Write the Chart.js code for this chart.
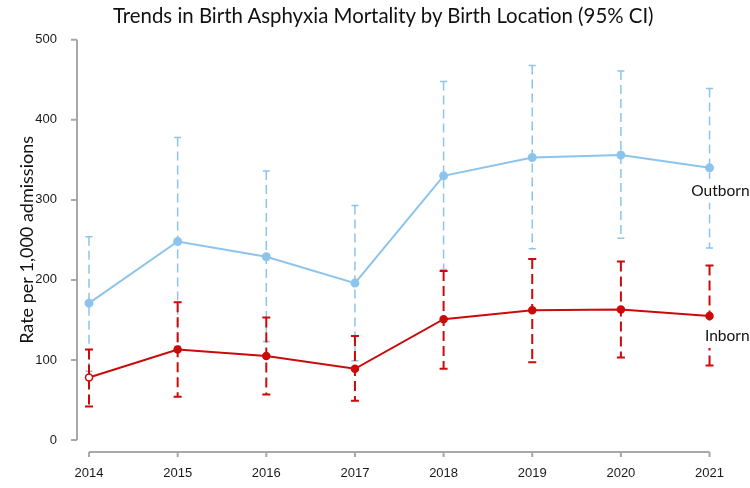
<!DOCTYPE html>
<html>
<head>
<meta charset="utf-8">
<script src="https://cdn.jsdelivr.net/npm/chart.js@4.4.1/dist/chart.umd.min.js"></script>
<style>
  html, body { margin: 0; padding: 0; background: #fff; }
  #wrap { position: relative; width: 750px; height: 488px; }
  #title {
    position: absolute; top: 2px; left: 113px; width: 560px;
    font: 20.4px Lato, 'Open Sans', sans-serif; color: #111; line-height: 26px;
    white-space: nowrap;
  }
</style>
</head>
<body>
<div id="wrap">
  <div id="title">Trends in Birth Asphyxia Mortality by Birth Location (95% CI)</div>
  <canvas id="chart"></canvas>
</div>
<script>
// values (rate per 1,000 admissions)
const years = ['2014', '2015', '2016', '2017', '2018', '2019', '2020', '2021'];
const outborn     = [171, 248, 229, 196, 330, 353, 356, 340];
const outbornLow  = [86, 117, 123, 99, 213, 239, 252, 240];
const outbornHigh = [254, 378, 336, 293, 448, 468, 461, 439];
const inborn      = [78, 113, 105, 89, 151, 162, 163, 155];
const inbornLow   = [42, 54, 57, 49, 89, 97, 103, 93];
const inbornHigh  = [113, 172, 153, 130, 211, 226, 223, 218];
const yTicks = [0, 100, 200, 300, 400, 500];

const BLUE = '#8cc4ec';
const RED = '#cc0a0a';
const AXIS = '#a8a8a8';
const tickFont = { family: "'Liberation Sans', Arial", size: 13 };
const textFont = "Lato, 'Open Sans', sans-serif";

// dashed 95% CI bars, drawn under the lines
const errorBars = {
  id: 'errorBars',
  beforeDatasetsDraw(chart) {
    const { ctx, scales: { x, y } } = chart;
    const sets = [
      { low: outbornLow, high: outbornHigh, color: BLUE, width: 1.5, dash: [9, 5], cap: 3.5 },
      { low: inbornLow, high: inbornHigh, color: RED, width: 2, dash: [10, 5], cap: 4 }
    ];
    ctx.save();
    sets.forEach(s => {
      ctx.strokeStyle = s.color;
      ctx.lineWidth = s.width;
      years.forEach((yr, i) => {
        const px = x.getPixelForValue(i);
        const top = y.getPixelForValue(s.high[i]);
        const bot = y.getPixelForValue(s.low[i]);
        ctx.setLineDash(s.dash);
        ctx.beginPath();
        ctx.moveTo(px, top);
        ctx.lineTo(px, bot);
        ctx.stroke();
        ctx.setLineDash([]);
        ctx.beginPath();
        ctx.moveTo(px - s.cap, top); ctx.lineTo(px + s.cap, top);
        ctx.moveTo(px - s.cap, bot); ctx.lineTo(px + s.cap, bot);
        ctx.stroke();
      });
    });
    ctx.restore();
  }
};

// detached axes like the original: y axis left of the plot, x axis below it
const axisLines = {
  id: 'axisLines',
  afterDraw(chart) {
    const { ctx, chartArea, scales: { x, y } } = chart;
    ctx.save();
    ctx.strokeStyle = AXIS;
    ctx.lineWidth = 2;
    const ax = chartArea.left - 12;
    ctx.beginPath();
    ctx.moveTo(ax, y.getPixelForValue(yTicks[yTicks.length - 1]));
    ctx.lineTo(ax, y.getPixelForValue(0));
    y.ticks.forEach(t => {
      const py = y.getPixelForValue(t.value);
      ctx.moveTo(ax - 6, py);
      ctx.lineTo(ax, py);
    });
    const ay = chartArea.bottom + 12;
    ctx.moveTo(x.getPixelForValue(0), ay);
    ctx.lineTo(x.getPixelForValue(years.length - 1), ay);
    years.forEach((yr, i) => {
      const px = x.getPixelForValue(i);
      ctx.moveTo(px, ay);
      ctx.lineTo(px, ay + 5);
    });
    ctx.stroke();
    ctx.restore();
  }
};

// series names next to the last point, on a white box
const seriesLabels = {
  id: 'seriesLabels',
  afterDatasetsDraw(chart) {
    const { ctx } = chart;
    ctx.save();
    ctx.font = '15.5px ' + textFont;
    ctx.textAlign = 'right';
    ctx.textBaseline = 'middle';
    chart.data.datasets.forEach((ds, di) => {
      const meta = chart.getDatasetMeta(di);
      const pt = meta.data[meta.data.length - 1];
      const tx = pt.x + 40;
      const ty = pt.y + ds.labelOffset;
      const w = ctx.measureText(ds.label).width;
      ctx.fillStyle = '#fff';
      ctx.fillRect(tx - w - 3, ty - 12, w + 6, 24);
      ctx.fillStyle = '#111';
      ctx.fillText(ds.label, tx, ty);
    });
    ctx.restore();
  }
};

new Chart(document.getElementById('chart'), {
  type: 'line',
  data: {
    labels: years,
    datasets: [
      {
        label: 'Outborn',
        data: outborn,
        borderColor: BLUE,
        backgroundColor: BLUE,
        pointBackgroundColor: BLUE,
        pointBorderColor: BLUE,
        borderWidth: 2,
        pointRadius: 3.5,
        tension: 0,
        labelOffset: 23
      },
      {
        label: 'Inborn',
        data: inborn,
        borderColor: RED,
        backgroundColor: RED,
        pointBackgroundColor: inborn.map((v, i) => i === 0 ? '#fff' : RED),
        pointBorderColor: RED,
        pointBorderWidth: 1.5,
        borderWidth: 2,
        pointRadius: 3.5,
        tension: 0,
        labelOffset: 20
      }
    ]
  },
  options: {
    responsive: true,
    maintainAspectRatio: false,
    animation: false,
    layout: { padding: { left: 12, right: 39, top: 39, bottom: 0 } },
    plugins: {
      legend: { display: false },
      tooltip: { enabled: false },
      title: { display: false }
    },
    scales: {
      x: {
        grid: { display: false, drawTicks: false },
        border: { display: false },
        ticks: { color: '#1a1a1a', font: tickFont, padding: 26, maxRotation: 0, autoSkip: false },
        afterFit(s) { s.height = 48; }
      },
      y: {
        min: 0,
        max: 500,
        grid: { display: false, drawTicks: false },
        border: { display: false },
        ticks: { stepSize: 100, color: '#1a1a1a', font: tickFont, padding: 32 },
        title: {
          display: true,
          text: 'Rate per 1,000 admissions',
          color: '#111',
          font: { family: textFont, size: 18 },
          padding: { top: 4, bottom: 0 }
        },
        afterFit(s) { s.width = 77; }
      }
    }
  },
  plugins: [errorBars, axisLines, seriesLabels]
});
</script>
</body>
</html>
